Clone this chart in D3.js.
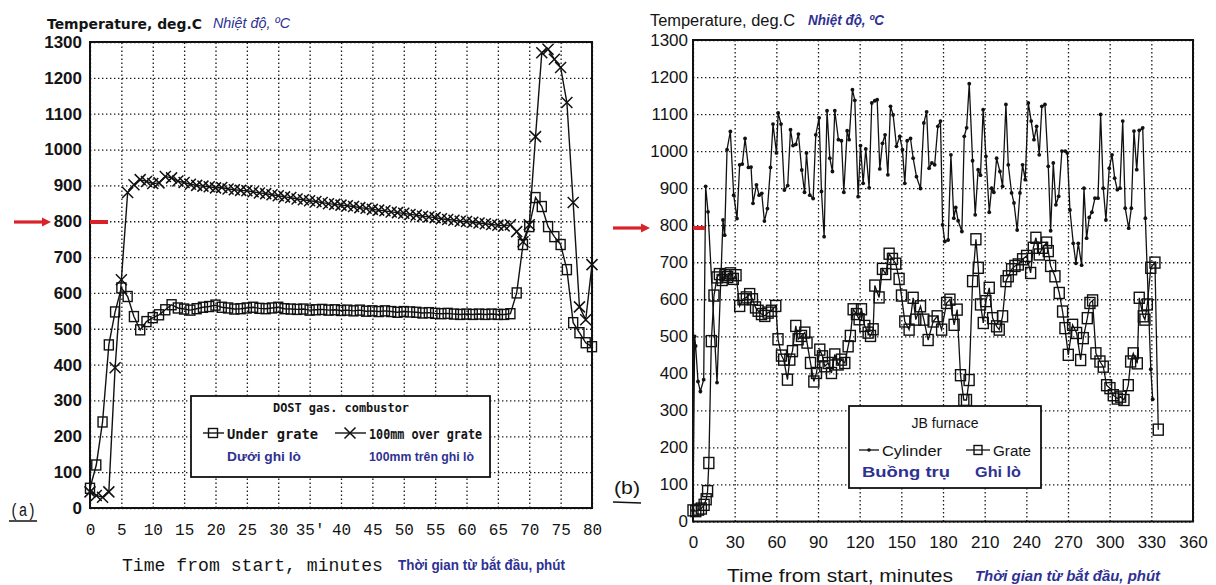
<!DOCTYPE html>
<html>
<head>
<meta charset="utf-8">
<script src="https://cdnjs.cloudflare.com/ajax/libs/d3/7.8.5/d3.min.js"></script>
<style>
  body { margin: 0; background: #fff; }
  svg text { fill: #141414; }
  svg .blue { fill: #2e3192; }
</style>
</head>
<body>
<svg id="chart" width="1216" height="585"></svg>
<script>
////////////////////////////////// DATA //////////////////////////////////
// (a) DOST gas combustor, minutes
var timeA = d3.range(0, 81);
var underGrate = [55,120,240,455,547,614,590,534,497,520,531,539,553,567,558,555,552,556,560,562,
  566,560,558,555,556,558,560,557,556,558,560,556,555,554,555,552,553,554,552,553,
  551,552,550,552,549,550,548,550,548,546,548,547,546,544,545,543,542,543,541,540,
  541,540,541,540,541,540,540,542,600,735,785,866,841,785,757,735,665,517,489,461,450];
var overGrate = [45,35,30,45,391,637,880,902,916,911,905,907,925,921,912,908,903,900,898,896,
  893,894,890,888,886,885,882,879,877,874,871,868,866,862,860,857,855,852,849,847,
  845,843,841,838,836,833,831,829,826,824,822,819,817,814,812,810,807,805,803,800,
  799,797,795,793,791,789,787,790,771,743,790,1036,1270,1280,1252,1229,1131,852,561,525,679];
var ticksA = d3.range(0, 81, 5);
var tickLabelsA = ['0','5','10','15','20','25','30',"35'",'40','45','50','55','60','65','70','75','80'];

// (b) JB furnace, minutes
var cylTime = [0,1.2,1.9,3.6,5.3,7.7,9.1,10.8,17.3,21.6,22.8,24.5,26.9,29.3,31.7,33.6,35.5,37.5,39.9,41.8,
  43.2,45.7,47.6,49.5,51.4,53.6,55.8,57.6,60.1,61.3,63.4,65.8,68.2,70.2,72,74,75.9,78.3,80.3,81.7,
  84.1,86.5,88.4,90.8,92.5,94.4,96.5,98.5,100.4,102.1,104.7,106.9,108.6,111,112.4,114.8,116.5,118.9,120.6,122.5,
  124.4,126.8,128.7,130.9,132.6,134.5,136.4,138.3,140.3,142.2,144.1,146.5,148.9,150.8,152.5,154.2,156.6,158.5,160.9,163.8,
  166.2,168.2,170,172,174,176.3,178.2,179.7,181.3,183.7,185.7,187.8,189.2,190.9,193.6,195.3,197,198.9,201.3,203.2,
  205.3,207,208.9,210.9,213.3,215,216.6,218.6,221,222.9,225.3,227,229.4,231.1,233.4,235.4,237.3,239.2,241.4,243.5,
  245.5,247.4,249.3,251.2,253.4,255.8,257.5,259.4,261.3,263.3,265.6,268,269.5,271.4,273.8,275.7,277.4,279.8,281.5,283.4,
  285.3,287.2,289.4,291.6,293.5,295.4,297.3,299.7,301.7,303.6,305.5,307.4,309.4,311.2,313.7,315.6,317.5,319.5,321.3,323.8,
  325.7,329.6,331];
var cylTemp = [30,500,474,378,351,383,905,836,375,814,773,1004,1053,881,818,963,965,1034,956,957,
  859,909,881,886,811,845,956,1073,995,1103,1073,895,907,1058,1015,1018,1046,949,889,995,
  881,872,1044,1090,891,769,1109,981,945,1109,1031,1028,889,1055,1031,1166,1137,877,1015,913,
  1006,901,1130,1136,1139,952,1021,1044,936,1121,1098,1013,1040,1004,913,1028,1034,981,931,899,
  1076,1106,954,968,963,1067,1081,801,756,760,990,819,848,812,783,1040,1063,1182,974,828,
  950,935,1112,986,835,900,889,981,945,905,1126,963,887,860,787,887,963,923,1130,1081,
  1031,1067,990,1121,1126,959,785,968,855,878,1000,1000,995,841,751,697,751,692,900,765,
  821,835,873,873,1099,900,814,954,990,927,896,900,1081,846,792,846,1054,950,1056,1063,
  819,411,330];
var grateTime = [0,2,4,6,8,9.5,10.5,11.4,13.2,15.1,17.3,19,21,23,25,27,29,31,33.6,36,
  38.4,40.8,42.8,45,46.9,49.3,51.7,54.1,56.5,59.6,61.2,63.7,65.3,68,69.7,71.6,74,75.7,78.1,80.5,
  82.1,84.6,87,88.9,91.3,93.2,94.9,97.3,99.7,102.1,104.5,106.9,109.3,111.7,113.3,115.3,117.7,119.6,121.3,123.7,
  126.1,127.8,129.7,130.9,134,136.4,138.8,141.2,143.6,146,148.4,150.1,152.5,155.6,158.5,160.4,163.8,166.2,169.3,172.9,
  175.8,179,182.6,185,188,190.2,192.6,195,196.9,198.8,201.3,203.7,205.4,207,209,210.9,213.3,215.7,218.6,220.5,
  222.9,225.3,227,229.4,231.8,234.2,237.3,240.2,243.1,245,246.9,249.3,251.7,254.6,255.8,257.5,260.6,263.7,266.1,267.8,
  270.2,273.3,276.2,279.1,281,283.9,285.8,287.7,290.1,293,295.4,297.8,300.2,302.6,305.5,307.9,310.3,313.4,315.1,317,
  319.9,321.3,324.2,325.4,327.1,329.6,332.6,335];
var grateTemp = [30,28,32,35,45,60,82,158,487,610,659,668,652,665,660,670,655,665,582,600,
  605,614,600,578,569,560,555,564,569,582,492,448,437,383,437,460,528,492,501,510,
  483,428,378,401,464,446,419,428,401,451,424,437,428,473,501,573,560,546,573,528,
  510,501,519,637,605,682,668,723,709,696,655,610,540,518,604,545,581,545,490,540,
  554,518,590,599,531,572,395,328,328,382,649,762,685,586,536,595,631,549,527,518,
  554,649,662,681,690,694,708,717,671,739,766,721,739,753,730,690,662,617,567,522,
  450,531,509,436,495,549,590,597,454,432,418,368,360,341,332,337,328,368,432,454,
  427,604,554,545,586,685,699,248];
var ticksB = d3.range(0, 361, 30);
var tempTicks = d3.range(0, 1301, 100);

////////////////////////////////// D3 //////////////////////////////////
var svg = d3.select('#chart');
var red = '#d8232a';
var plain = d3.format('d');

function grid(g, x, y, x0, x1, y0, y1, xt) {
  g.append('g')
    .attr('transform', 'translate(0,' + y0 + ')')
    .call(d3.axisBottom(x).tickValues(xt).tickSize(-(y0 - y1)).tickFormat(''))
    .call(function(s) { s.select('.domain').remove(); });
  g.append('g')
    .attr('transform', 'translate(' + x0 + ',0)')
    .call(d3.axisLeft(y).tickValues(tempTicks).tickSize(-(x1 - x0)).tickFormat(''))
    .call(function(s) { s.select('.domain').remove(); });
  g.selectAll('.tick line')
    .attr('stroke', '#1a1a1a')
    .attr('stroke-width', 1.3)
    .attr('stroke-dasharray', '1.4,2.6');
}

function arrowMark(x0, x1, y, bx0, bx1) {
  svg.append('line').attr('x1', x0).attr('x2', x1 - 6).attr('y1', y).attr('y2', y)
    .attr('stroke', red).attr('stroke-width', 3.2);
  svg.append('path').attr('d', 'M' + (x1 - 9) + ',' + (y - 4.5) + 'L' + x1 + ',' + y + 'L' + (x1 - 9) + ',' + (y + 4.5) + 'Z')
    .attr('fill', red);
  svg.append('rect').attr('x', bx0).attr('y', y - 2).attr('width', bx1 - bx0).attr('height', 4).attr('fill', red);
}

var squareSym = function(sel, w, h) {
  sel.append('rect').attr('x', -w / 2).attr('y', -h / 2).attr('width', w).attr('height', h)
    .attr('fill', 'none').attr('stroke', '#111').attr('stroke-width', 1.4);
};
var crossSym = function(sel, s) {
  sel.append('path').attr('d', 'M' + (-s) + ',' + (-s) + 'L' + s + ',' + s + 'M' + (-s) + ',' + s + 'L' + s + ',' + (-s))
    .attr('fill', 'none').attr('stroke', '#111').attr('stroke-width', 1.5);
};

////////////////////////////////// PANEL (a) //////////////////////////////////
var xA = d3.scaleLinear().domain([0, 80]).range([90, 592]);
var yA = d3.scaleLinear().domain([0, 1300]).range([508, 42]);

var gA = svg.append('g');
grid(gA, xA, yA, 90, 592, 508, 42, ticksA);

var dataUnder = timeA.map(function(t, i) { return { t: t, v: underGrate[i] }; });
var dataOver = timeA.map(function(t, i) { return { t: t, v: overGrate[i] }; });
var lineA = d3.line().x(function(d) { return xA(d.t); }).y(function(d) { return yA(d.v); });

gA.append('path').datum(dataUnder).attr('d', lineA).attr('fill', 'none').attr('stroke', '#111').attr('stroke-width', 1.4);
gA.append('path').datum(dataOver).attr('d', lineA).attr('fill', 'none').attr('stroke', '#111').attr('stroke-width', 1.4);

gA.selectAll('.sq').data(dataUnder).enter().append('g')
  .attr('transform', function(d) { return 'translate(' + xA(d.t) + ',' + yA(d.v) + ')'; })
  .each(function() { squareSym(d3.select(this), 9, 10); });
gA.selectAll('.xx').data(dataOver).enter().append('g')
  .attr('transform', function(d) { return 'translate(' + xA(d.t) + ',' + yA(d.v) + ')'; })
  .each(function() { crossSym(d3.select(this), 5.5); });

gA.append('rect').attr('x', 90).attr('y', 42).attr('width', 502).attr('height', 466)
  .attr('fill', 'none').attr('stroke', '#111').attr('stroke-width', 2);

// axes (a)
var axYA = gA.append('g').attr('transform', 'translate(90,0)')
  .call(d3.axisLeft(yA).tickValues(tempTicks).tickSize(0).tickPadding(8).tickFormat(plain));
axYA.select('.domain').remove();
axYA.selectAll('text').attr('font-family', 'Liberation Sans, Arial, sans-serif').attr('font-weight', 'bold')
  .attr('font-size', 17).style('fill', '#141414');

var axXA = gA.append('g').attr('transform', 'translate(0,508)')
  .call(d3.axisBottom(xA).tickValues(ticksA).tickSize(0).tickPadding(16)
    .tickFormat(function(d, i) { return tickLabelsA[i]; }));
axXA.select('.domain').remove();
axXA.selectAll('text').attr('font-family', 'Liberation Mono, Courier New, monospace')
  .attr('font-size', 16).style('fill', '#141414');

svg.append('text').attr('x', 47).attr('y', 29).attr('font-family', 'DejaVu Sans, sans-serif').attr('font-weight', 'bold')
  .attr('font-size', 14.5).attr('textLength', 155).attr('lengthAdjust', 'spacingAndGlyphs').text('Temperature, deg.C');
svg.append('text').attr('class', 'blue').attr('x', 213).attr('y', 28).attr('font-family', 'Liberation Sans, Arial, sans-serif')
  .attr('font-style', 'italic').attr('font-size', 14).attr('textLength', 77).attr('lengthAdjust', 'spacingAndGlyphs').text('Nhiệt độ, ºC');

svg.append('text').attr('x', 122).attr('y', 571).attr('font-family', 'Liberation Mono, Courier New, monospace')
  .attr('font-size', 19).attr('textLength', 261).attr('lengthAdjust', 'spacingAndGlyphs').text('Time from start, minutes');
svg.append('text').attr('class', 'blue').attr('x', 398).attr('y', 570).attr('font-family', 'Liberation Sans, Arial, sans-serif')
  .attr('font-weight', 'bold').attr('font-size', 14).attr('textLength', 167).attr('lengthAdjust', 'spacingAndGlyphs').text('Thời gian từ bắt đầu, phút');

svg.append('text').attr('x', 10).attr('y', 516).attr('font-family', 'Liberation Mono, Courier New, monospace')
  .attr('font-size', 18).attr('textLength', 26).attr('lengthAdjust', 'spacingAndGlyphs').text('(a)');
svg.append('line').attr('x1', 9).attr('x2', 37).attr('y1', 521).attr('y2', 521).attr('stroke', '#111').attr('stroke-width', 1.5);

arrowMark(14, 51, 222, 90, 108);

// legend (a)
var legA = svg.append('g');
legA.append('rect').attr('x', 191).attr('y', 396).attr('width', 299).attr('height', 81)
  .attr('fill', '#fff').attr('stroke', '#111').attr('stroke-width', 1.8);
legA.append('text').attr('x', 273).attr('y', 412).attr('font-family', 'DejaVu Sans Mono, monospace').attr('font-weight', 'bold')
  .attr('font-size', 13).attr('textLength', 136).attr('lengthAdjust', 'spacingAndGlyphs').text('DOST gas. combustor');
legA.append('line').attr('x1', 203).attr('x2', 224).attr('y1', 433).attr('y2', 433).attr('stroke', '#111').attr('stroke-width', 1.4);
squareSym(legA.append('g').attr('transform', 'translate(213,433)'), 9, 9);
legA.append('text').attr('x', 227).attr('y', 439).attr('font-family', 'DejaVu Sans Mono, monospace').attr('font-weight', 'bold')
  .attr('font-size', 14).attr('textLength', 91).attr('lengthAdjust', 'spacingAndGlyphs').text('Under grate');
legA.append('line').attr('x1', 335).attr('x2', 366).attr('y1', 433).attr('y2', 433).attr('stroke', '#111').attr('stroke-width', 1.4);
crossSym(legA.append('g').attr('transform', 'translate(350,433)'), 5.5);
legA.append('text').attr('x', 369).attr('y', 439).attr('font-family', 'DejaVu Sans Mono, monospace').attr('font-weight', 'bold')
  .attr('font-size', 14).attr('textLength', 113).attr('lengthAdjust', 'spacingAndGlyphs').text('100mm over grate');
legA.append('text').attr('class', 'blue').attr('x', 227).attr('y', 461).attr('font-family', 'Liberation Sans, Arial, sans-serif')
  .attr('font-weight', 'bold').attr('font-size', 12.5).attr('textLength', 74).attr('lengthAdjust', 'spacingAndGlyphs').text('Dưới ghi lò');
legA.append('text').attr('class', 'blue').attr('x', 369).attr('y', 461).attr('font-family', 'Liberation Sans, Arial, sans-serif')
  .attr('font-weight', 'bold').attr('font-size', 12.5).attr('textLength', 105).attr('lengthAdjust', 'spacingAndGlyphs').text('100mm trên ghi lò');

////////////////////////////////// PANEL (b) //////////////////////////////////
var xB = d3.scaleLinear().domain([0, 360]).range([693, 1193]);
var yB = d3.scaleLinear().domain([0, 1300]).range([521.5, 40]);

var gB = svg.append('g');
grid(gB, xB, yB, 693, 1193, 521.5, 40, ticksB);

var dataCyl = cylTime.map(function(t, i) { return { t: t, v: cylTemp[i] }; });
var dataGrate = grateTime.map(function(t, i) { return { t: t, v: grateTemp[i] }; });
var lineB = d3.line().x(function(d) { return xB(d.t); }).y(function(d) { return yB(d.v); });

gB.append('path').datum(dataGrate).attr('d', lineB).attr('fill', 'none').attr('stroke', '#111').attr('stroke-width', 1.3);
gB.selectAll('.sq').data(dataGrate).enter().append('g')
  .attr('transform', function(d) { return 'translate(' + xB(d.t) + ',' + yB(d.v) + ')'; })
  .each(function() { squareSym(d3.select(this), 10, 11); });

gB.append('path').datum(dataCyl).attr('d', lineB).attr('fill', 'none').attr('stroke', '#111').attr('stroke-width', 1.3);
gB.selectAll('.dot').data(dataCyl).enter().append('circle')
  .attr('cx', function(d) { return xB(d.t); })
  .attr('cy', function(d) { return yB(d.v); })
  .attr('r', 1.9).attr('fill', '#111');

gB.append('rect').attr('x', 693).attr('y', 40).attr('width', 500).attr('height', 481.5)
  .attr('fill', 'none').attr('stroke', '#111').attr('stroke-width', 2);

var axYB = gB.append('g').attr('transform', 'translate(693,0)')
  .call(d3.axisLeft(yB).tickValues(tempTicks).tickSize(0).tickPadding(5).tickFormat(plain));
axYB.select('.domain').remove();
axYB.selectAll('text').attr('font-family', 'Liberation Sans, Arial, sans-serif').attr('font-size', 17).style('fill', '#141414');

var axXB = gB.append('g').attr('transform', 'translate(0,521.5)')
  .call(d3.axisBottom(xB).tickValues(ticksB).tickSize(0).tickPadding(14).tickFormat(plain));
axXB.select('.domain').remove();
axXB.selectAll('text').attr('font-family', 'Liberation Sans, Arial, sans-serif').attr('font-size', 17).style('fill', '#141414');

svg.append('text').attr('x', 650).attr('y', 26).attr('font-family', 'Liberation Sans, Arial, sans-serif')
  .attr('font-size', 16).attr('textLength', 145).attr('lengthAdjust', 'spacingAndGlyphs').text('Temperature, deg.C');
svg.append('text').attr('class', 'blue').attr('x', 808).attr('y', 25).attr('font-family', 'Liberation Sans, Arial, sans-serif')
  .attr('font-style', 'italic').attr('font-weight', 'bold').attr('font-size', 14).attr('textLength', 76).attr('lengthAdjust', 'spacingAndGlyphs').text('Nhiệt độ, ºC');

svg.append('text').attr('x', 727).attr('y', 582).attr('font-family', 'Liberation Sans, Arial, sans-serif')
  .attr('font-size', 19).attr('textLength', 226).attr('lengthAdjust', 'spacingAndGlyphs').text('Time from start, minutes');
svg.append('text').attr('class', 'blue').attr('x', 975).attr('y', 581).attr('font-family', 'Liberation Sans, Arial, sans-serif')
  .attr('font-style', 'italic').attr('font-weight', 'bold').attr('font-size', 15).attr('textLength', 185).attr('lengthAdjust', 'spacingAndGlyphs').text('Thời gian từ bắt đầu, phút');

svg.append('text').attr('x', 614).attr('y', 494).attr('font-family', 'Liberation Sans, Arial, sans-serif')
  .attr('font-size', 18).attr('textLength', 26).attr('lengthAdjust', 'spacingAndGlyphs').text('(b)');
svg.append('line').attr('x1', 613).attr('x2', 641).attr('y1', 502).attr('y2', 503).attr('stroke', '#111').attr('stroke-width', 1.5);

arrowMark(613, 650, 228, 693, 705);

// legend (b)
var legB = svg.append('g');
legB.append('rect').attr('x', 849).attr('y', 406).attr('width', 192).attr('height', 82)
  .attr('fill', '#fff').attr('stroke', '#111').attr('stroke-width', 1.8);
legB.append('text').attr('x', 945).attr('y', 428).attr('text-anchor', 'middle').attr('font-family', 'Liberation Sans, Arial, sans-serif')
  .attr('font-size', 14).text('JB furnace');
legB.append('line').attr('x1', 859).attr('x2', 879).attr('y1', 450).attr('y2', 450).attr('stroke', '#111').attr('stroke-width', 1.3);
legB.append('circle').attr('cx', 869).attr('cy', 450).attr('r', 1.8).attr('fill', '#111');
legB.append('text').attr('x', 882).attr('y', 456).attr('font-family', 'Liberation Sans, Arial, sans-serif')
  .attr('font-size', 15.5).attr('textLength', 60).attr('lengthAdjust', 'spacingAndGlyphs').text('Cylinder');
legB.append('line').attr('x1', 966).attr('x2', 990).attr('y1', 450).attr('y2', 450).attr('stroke', '#111').attr('stroke-width', 1.3);
squareSym(legB.append('g').attr('transform', 'translate(978,450)'), 8, 9);
legB.append('text').attr('x', 993).attr('y', 456).attr('font-family', 'Liberation Sans, Arial, sans-serif')
  .attr('font-size', 15.5).attr('textLength', 38).attr('lengthAdjust', 'spacingAndGlyphs').text('Grate');
legB.append('text').attr('class', 'blue').attr('x', 862).attr('y', 477).attr('font-family', 'Liberation Sans, Arial, sans-serif')
  .attr('font-weight', 'bold').attr('font-size', 15).attr('textLength', 88).attr('lengthAdjust', 'spacingAndGlyphs').text('Buồng trụ');
legB.append('text').attr('class', 'blue').attr('x', 975).attr('y', 477).attr('font-family', 'Liberation Sans, Arial, sans-serif')
  .attr('font-weight', 'bold').attr('font-size', 15).attr('textLength', 46).attr('lengthAdjust', 'spacingAndGlyphs').text('Ghi lò');
////////////////////////////////// D3 - END //////////////////////////////////
</script>
</body>
</html>
